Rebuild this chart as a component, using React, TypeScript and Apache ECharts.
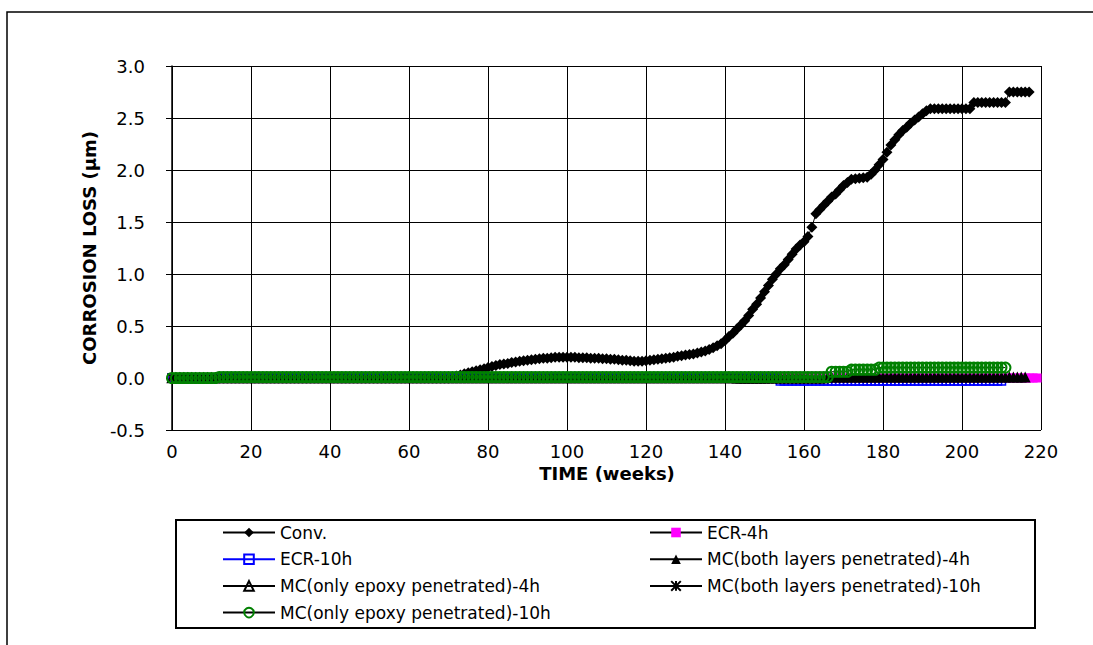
import React, { useEffect, useRef } from "react";
import * as echarts from "echarts";

const FONT = "DejaVu Sans";

// x axis ticks (weeks) and y axis ticks (µm)
const xTicks = [0, 20, 40, 60, 80, 100, 120, 140, 160, 180, 200, 220];
const yTicks = [-0.5, 0.0, 0.5, 1.0, 1.5, 2.0, 2.5, 3.0];
const xTitle = "TIME (weeks)";
const yTitle = "CORROSION LOSS (µm)";

const seriesNames = [
  "Conv.",
  "ECR-4h",
  "ECR-10h",
  "MC(both layers penetrated)-4h",
  "MC(only epoxy penetrated)-4h",
  "MC(both layers penetrated)-10h",
  "MC(only epoxy penetrated)-10h",
];

// Conv. : weekly readings starting at week 0
const convStart = 0;
const convValues = [
  0, 0, 0, 0, 0, 0, 0, 0, 0, 0,
  0, 0, 0, 0, 0, 0, 0, 0, 0, 0,
  0, 0, 0, 0, 0, 0, 0, 0, 0, 0,
  0, 0, 0, 0, 0, 0, 0, 0, 0, 0,
  0, 0, 0, 0, 0, 0, 0, 0, 0, 0,
  0, 0, 0, 0, 0, 0, 0, 0, 0, 0,
  0, 0, 0, 0, 0, 0, 0, 0, 0, 0,
  0.0, 0.01, 0.02, 0.03, 0.04, 0.05, 0.06, 0.07, 0.08, 0.09,
  0.10, 0.11, 0.12, 0.13, 0.135, 0.14, 0.15, 0.155, 0.16, 0.165,
  0.17, 0.175, 0.18, 0.185, 0.19, 0.19, 0.195, 0.2, 0.2, 0.2,
  0.2, 0.2, 0.2, 0.195, 0.195, 0.195, 0.19, 0.19, 0.19, 0.185,
  0.185, 0.18, 0.18, 0.175, 0.17, 0.17, 0.165, 0.16, 0.16, 0.16,
  0.165, 0.17, 0.175, 0.18, 0.185, 0.19, 0.195, 0.2, 0.21, 0.215,
  0.22, 0.225, 0.23, 0.24, 0.25, 0.26, 0.275, 0.29, 0.31, 0.33,
  0.36, 0.4, 0.43, 0.47, 0.51, 0.55, 0.6, 0.66, 0.71, 0.77,
  0.83, 0.89, 0.95, 1.0, 1.05, 1.09, 1.14, 1.19, 1.24, 1.28,
  1.31, 1.36, 1.45, 1.58, 1.62, 1.66, 1.7, 1.74, 1.77, 1.81,
  1.85, 1.88, 1.91, 1.915, 1.92, 1.925, 1.93, 1.96, 2.0, 2.05,
  2.1, 2.17, 2.24, 2.29, 2.34, 2.38, 2.41, 2.45, 2.48, 2.51,
  2.54, 2.57, 2.59, 2.59, 2.59, 2.59, 2.59, 2.59, 2.59, 2.59,
  2.59, 2.59, 2.59, 2.65, 2.65, 2.65, 2.65, 2.65, 2.65, 2.65,
  2.65, 2.65, 2.75, 2.75, 2.75, 2.75, 2.75, 2.75,
];

// ECR-4h : weekly readings starting at week 0
const ecr4hStart = 0;
const ecr4hValues = [
  0, 0, 0, 0, 0, 0, 0, 0, 0, 0, 0, 0, 0, 0, 0, 0, 0, 0, 0, 0,
  0, 0, 0, 0, 0, 0, 0, 0, 0, 0, 0, 0, 0, 0, 0, 0, 0, 0, 0, 0,
  0, 0, 0, 0, 0, 0, 0, 0, 0, 0, 0, 0, 0, 0, 0, 0, 0, 0, 0, 0,
  0, 0, 0, 0, 0, 0, 0, 0, 0, 0, 0, 0, 0, 0, 0, 0, 0, 0, 0, 0,
  0, 0, 0, 0, 0, 0, 0, 0, 0, 0, 0, 0, 0, 0, 0, 0, 0, 0, 0, 0,
  0, 0, 0, 0, 0, 0, 0, 0, 0, 0, 0, 0, 0, 0, 0, 0, 0, 0, 0, 0,
  0, 0, 0, 0, 0, 0, 0, 0, 0, 0, 0, 0, 0, 0, 0, 0, 0, 0, 0, 0,
  0, 0, 0, 0, 0, 0, 0, 0, 0, 0, 0, 0, 0, 0, 0, 0, 0, 0, 0, 0,
  0, 0, 0, 0, 0, 0, 0, 0, 0, 0, 0, 0, 0, 0, 0, 0, 0, 0, 0, 0,
  0, 0, 0, 0, 0, 0, 0, 0, 0, 0, 0, 0, 0, 0, 0, 0, 0, 0, 0, 0,
  0, 0, 0, 0, 0, 0, 0, 0, 0, 0, 0, 0, 0, 0, 0, 0, 0, 0, 0, 0,
];

// ECR-10h : weekly readings starting at week 0
const ecr10hStart = 0;
const ecr10hValues = [
  0, 0, 0, 0, 0, 0, 0, 0, 0, 0, 0, 0, 0, 0, 0, 0, 0, 0, 0, 0,
  0, 0, 0, 0, 0, 0, 0, 0, 0, 0, 0, 0, 0, 0, 0, 0, 0, 0, 0, 0,
  0, 0, 0, 0, 0, 0, 0, 0, 0, 0, 0, 0, 0, 0, 0, 0, 0, 0, 0, 0,
  0, 0, 0, 0, 0, 0, 0, 0, 0, 0, 0, 0, 0, 0, 0, 0, 0, 0, 0, 0,
  0, 0, 0, 0, 0, 0, 0, 0, 0, 0, 0, 0, 0, 0, 0, 0, 0, 0, 0, 0,
  0, 0, 0, 0, 0, 0, 0, 0, 0, 0, 0, 0, 0, 0, 0, 0, 0, 0, 0, 0,
  0, 0, 0, 0, 0, 0, 0, 0, 0, 0, 0, 0, 0, 0, 0, 0, 0, 0, 0, 0,
  0, 0, 0, 0, 0, 0, 0, 0, 0, 0, 0, 0, 0, 0,
  -0.03, -0.03, -0.03, -0.03, -0.03, -0.03, -0.03, -0.03, -0.03, -0.03,
  -0.03, -0.03, -0.03, -0.03, -0.03, -0.03, -0.03, -0.03, -0.03, -0.03,
  -0.03, -0.03, -0.03, -0.03, -0.03, -0.03, -0.03, -0.03, -0.03, -0.03,
  -0.03, -0.03, -0.03, -0.03, -0.03, -0.03, -0.03, -0.03, -0.03, -0.03,
  -0.03, -0.03, -0.03, -0.03, -0.03, -0.03, -0.03, -0.03, -0.03, -0.03,
  -0.03, -0.03, -0.03, -0.03, -0.03, -0.03, -0.03,
];

// MC(both layers penetrated)-4h : weekly readings starting at week 143
const mcBoth4hStart = 143;
const mcBoth4hValues = [
  0, 0, 0, 0, 0, 0, 0, 0, 0, 0, 0, 0, 0, 0, 0, 0, 0, 0, 0, 0, 0, 0, 0,
  0.01, 0.01, 0.01, 0.01, 0.01, 0.01, 0.01, 0.01, 0.01, 0.01,
  0.01, 0.01, 0.01, 0.01, 0.01, 0.01, 0.01, 0.01, 0.01, 0.01,
  0.01, 0.01, 0.01, 0.01, 0.01, 0.01, 0.01, 0.01, 0.01, 0.01,
  0.01, 0.01, 0.01, 0.01, 0.01, 0.01, 0.01, 0.01, 0.01, 0.01,
  0.01, 0.01, 0.01, 0.01, 0.01, 0.01, 0.01, 0.01, 0.01, 0.01,
  0.01,
];

// MC(only epoxy penetrated)-4h : weekly readings starting at week 0
const mcOnly4hStart = 0;
const mcOnly4hValues = [
  0, 0, 0, 0, 0, 0, 0, 0, 0, 0, 0, 0, 0, 0, 0, 0, 0, 0, 0, 0,
  0, 0, 0, 0, 0, 0, 0, 0, 0, 0, 0, 0, 0, 0, 0, 0, 0, 0, 0, 0,
  0, 0, 0, 0, 0, 0, 0, 0, 0, 0, 0, 0, 0, 0, 0, 0, 0, 0, 0, 0,
  0, 0, 0, 0, 0, 0, 0, 0, 0, 0, 0, 0, 0, 0, 0, 0, 0, 0, 0, 0,
  0, 0, 0, 0, 0, 0, 0, 0, 0, 0, 0, 0, 0, 0, 0, 0, 0, 0, 0, 0,
  0, 0, 0, 0, 0, 0, 0, 0, 0, 0, 0, 0, 0, 0, 0, 0, 0, 0, 0, 0,
  0, 0, 0, 0, 0, 0, 0, 0, 0, 0, 0, 0, 0, 0, 0, 0, 0, 0, 0, 0,
  0, 0, 0, 0, 0, 0, 0, 0, 0, 0, 0,
];

// MC(both layers penetrated)-10h : weekly readings starting at week 0
const mcBoth10hStart = 0;
const mcBoth10hValues = [
  0, 0, 0, 0, 0, 0, 0, 0, 0, 0, 0, 0, 0, 0, 0, 0, 0, 0, 0, 0,
  0, 0, 0, 0, 0, 0, 0, 0, 0, 0, 0, 0, 0, 0, 0, 0, 0, 0, 0, 0,
  0, 0, 0, 0, 0, 0, 0, 0, 0, 0, 0, 0, 0, 0, 0, 0, 0, 0, 0, 0,
  0, 0, 0, 0, 0, 0, 0, 0, 0, 0, 0, 0, 0, 0, 0, 0, 0, 0, 0, 0,
  0, 0, 0, 0, 0, 0, 0, 0, 0, 0, 0, 0, 0, 0, 0, 0, 0, 0, 0, 0,
  0, 0, 0, 0, 0, 0, 0, 0, 0, 0, 0, 0, 0, 0, 0, 0, 0, 0, 0, 0,
  0, 0, 0, 0, 0, 0, 0, 0, 0, 0, 0, 0, 0, 0, 0, 0, 0, 0, 0, 0,
  0, 0, 0, 0, 0, 0, 0, 0, 0, 0, 0, 0, 0, 0, 0, 0, 0, 0, 0, 0,
  0,
];

// MC(only epoxy penetrated)-10h : weekly readings starting at week 0
const mcOnly10hStart = 0;
const mcOnly10hValues = [
  0, 0, 0, 0, 0, 0, 0, 0, 0, 0, 0, 0,
  0.01, 0.01, 0.01, 0.01, 0.01, 0.01, 0.01, 0.01, 0.01, 0.01, 0.01, 0.01, 0.01, 0.01, 0.01, 0.01, 0.01, 0.01, 0.01, 0.01,
  0.01, 0.01, 0.01, 0.01, 0.01, 0.01, 0.01, 0.01, 0.01, 0.01, 0.01, 0.01, 0.01, 0.01, 0.01, 0.01, 0.01, 0.01, 0.01, 0.01,
  0.01, 0.01, 0.01, 0.01, 0.01, 0.01, 0.01, 0.01, 0.01, 0.01, 0.01, 0.01, 0.01, 0.01, 0.01, 0.01, 0.01, 0.01, 0.01, 0.01,
  0.01, 0.01, 0.01, 0.01, 0.01, 0.01, 0.01, 0.01, 0.01, 0.01, 0.01, 0.01, 0.01, 0.01, 0.01, 0.01, 0.01, 0.01, 0.01, 0.01,
  0.01, 0.01, 0.01, 0.01, 0.01, 0.01, 0.01, 0.01, 0.01, 0.01, 0.01, 0.01, 0.01, 0.01, 0.01, 0.01, 0.01, 0.01, 0.01, 0.01,
  0.01, 0.01, 0.01, 0.01, 0.01, 0.01, 0.01, 0.01, 0.01, 0.01, 0.01, 0.01, 0.01, 0.01, 0.01, 0.01, 0.01, 0.01, 0.01, 0.01,
  0.01, 0.01, 0.01, 0.01, 0.01, 0.01, 0.01, 0.01, 0.01, 0.01, 0.01, 0.01, 0.01, 0.01, 0.01, 0.01, 0.01, 0.01, 0.01, 0.01,
  0.01, 0.01, 0.01, 0.01, 0.01, 0.01, 0.01, 0.01, 0.01, 0.01, 0.01, 0.01, 0.01, 0.01, 0.01,
  0.06, 0.06, 0.06, 0.06, 0.06,
  0.08, 0.08, 0.08, 0.08, 0.08, 0.08, 0.08,
  0.1, 0.1, 0.1, 0.1, 0.1, 0.1, 0.1, 0.1, 0.1, 0.1, 0.1,
  0.1, 0.1, 0.1, 0.1, 0.1, 0.1, 0.1, 0.1, 0.1, 0.1, 0.1,
  0.1, 0.1, 0.1, 0.1, 0.1, 0.1, 0.1, 0.1, 0.1, 0.1, 0.1,
];

const toPairs = (start: number, values: number[]) =>
  values.map((v, i) => [start + i, v]);

const textBase = { fontFamily: FONT, color: "#000" };

function buildOption() {
  return {
    animation: false,
    backgroundColor: "#ffffff",
    textStyle: { fontFamily: FONT },
    grid: { left: 172, top: 66, right: 52, bottom: 215, containLabel: false },
    xAxis: {
      type: "value",
      min: xTicks[0],
      max: xTicks[xTicks.length - 1],
      interval: 20,
      axisLine: { lineStyle: { color: "#000", width: 2 } },
      axisTick: { show: true, length: 5, lineStyle: { color: "#000" } },
      axisLabel: { ...textBase, fontSize: 18, margin: 12 },
      splitLine: { show: true, lineStyle: { color: "#000", width: 1 } },
    },
    yAxis: {
      type: "value",
      min: yTicks[0],
      max: yTicks[yTicks.length - 1],
      interval: 0.5,
      name: yTitle,
      nameLocation: "middle",
      nameGap: 74,
      nameTextStyle: { ...textBase, fontSize: 18, fontWeight: "bold" },
      axisLine: { show: true, lineStyle: { color: "#000", width: 1.5 } },
      axisTick: { show: true, length: 6, lineStyle: { color: "#000" } },
      axisLabel: {
        ...textBase,
        fontSize: 18,
        margin: 27,
        formatter: (v: number) => v.toFixed(1),
      },
      splitLine: { show: true, lineStyle: { color: "#000", width: 1 } },
    },
    legend: [
      {
        orient: "vertical",
        left: 222,
        top: 524,
        padding: 0,
        itemWidth: 52,
        itemHeight: 12,
        itemGap: 9.7,
        textStyle: { ...textBase, fontSize: 17 },
        data: [seriesNames[0], seriesNames[2], seriesNames[4], seriesNames[6]],
      },
      {
        orient: "vertical",
        left: 649,
        top: 524,
        padding: 0,
        itemWidth: 52,
        itemHeight: 12,
        itemGap: 9.7,
        textStyle: { ...textBase, fontSize: 17 },
        data: [seriesNames[1], seriesNames[3], seriesNames[5]],
      },
    ],
    graphic: [
      {
        type: "rect",
        shape: { x: 7, y: 12, width: 1200, height: 800 },
        style: { fill: "none", stroke: "#000", lineWidth: 1.5 },
        silent: true,
      },
      {
        type: "rect",
        shape: { x: 176, y: 520, width: 859, height: 108 },
        style: { fill: "none", stroke: "#000", lineWidth: 2 },
        silent: true,
      },
      {
        type: "text",
        x: 607,
        y: 473,
        silent: true,
        style: {
          text: xTitle,
          fontFamily: FONT,
          fontSize: 18,
          fontWeight: "bold",
          fill: "#000",
          align: "center",
          verticalAlign: "middle",
        },
      },
    ],
    series: [
      {
        name: seriesNames[0],
        type: "line",
        data: toPairs(convStart, convValues),
        symbol: "diamond",
        symbolSize: 11,
        showAllSymbol: true,
        lineStyle: { color: "#000", width: 1 },
        itemStyle: { color: "#000" },
      },
      {
        name: seriesNames[1],
        type: "line",
        data: toPairs(ecr4hStart, ecr4hValues),
        symbol: "rect",
        symbolSize: 9,
        showAllSymbol: true,
        lineStyle: { color: "#000", width: 1 },
        itemStyle: { color: "#ff00ff" },
      },
      {
        name: seriesNames[2],
        type: "line",
        data: toPairs(ecr10hStart, ecr10hValues),
        symbol: "rect",
        symbolSize: 8,
        showAllSymbol: true,
        lineStyle: { color: "#0000ff", width: 1 },
        itemStyle: { color: "rgba(255,255,255,0)", borderColor: "#0000ff", borderWidth: 1.5 },
      },
      {
        name: seriesNames[3],
        type: "line",
        data: toPairs(mcBoth4hStart, mcBoth4hValues),
        symbol: "triangle",
        symbolSize: 11,
        showAllSymbol: true,
        lineStyle: { color: "#000", width: 1 },
        itemStyle: { color: "#000" },
      },
      {
        name: seriesNames[4],
        type: "line",
        data: toPairs(mcOnly4hStart, mcOnly4hValues),
        symbol: "triangle",
        symbolSize: 9,
        showAllSymbol: true,
        lineStyle: { color: "#000", width: 1 },
        itemStyle: { color: "rgba(255,255,255,0)", borderColor: "#000", borderWidth: 1.5 },
      },
      {
        name: seriesNames[5],
        type: "line",
        data: toPairs(mcBoth10hStart, mcBoth10hValues),
        symbol: "path://M0,0L10,10M10,0L0,10M5,0L5,10",
        symbolSize: 9,
        showAllSymbol: true,
        lineStyle: { color: "#000", width: 1 },
        itemStyle: { color: "#000", borderColor: "#000", borderWidth: 1.5 },
      },
      {
        name: seriesNames[6],
        type: "line",
        data: toPairs(mcOnly10hStart, mcOnly10hValues),
        symbol: "circle",
        symbolSize: 10,
        showAllSymbol: true,
        lineStyle: { color: "#000", width: 1 },
        itemStyle: { color: "rgba(255,255,255,0)", borderColor: "#008000", borderWidth: 2 },
      },
    ],
  };
}

export default function App() {
  const ref = useRef<HTMLDivElement>(null);
  useEffect(() => {
    if (!ref.current) return;
    const chart = echarts.init(ref.current, null, { renderer: "svg" });
    chart.setOption(buildOption() as any);
    return () => chart.dispose();
  }, []);
  return (
    <div
      ref={ref}
      style={{ position: "fixed", left: 0, top: 0, width: 1093, height: 645, background: "#fff" }}
    />
  );
}
